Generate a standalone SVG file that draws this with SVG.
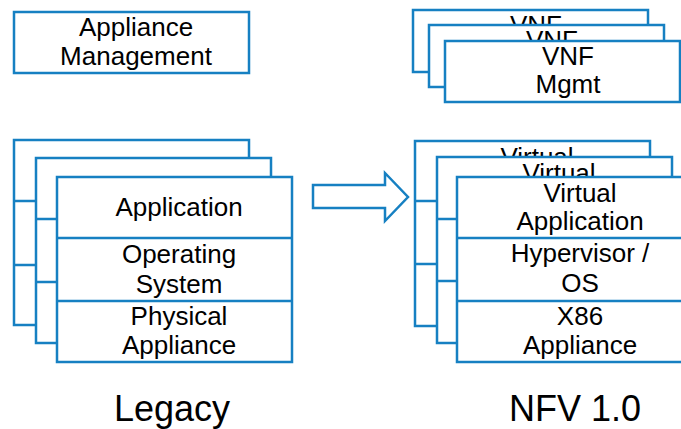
<svg xmlns="http://www.w3.org/2000/svg" width="681" height="429" viewBox="0 0 681 429">
<style>
.box{fill:#ffffff;stroke:#1680c2;stroke-width:2.5}
.div{stroke:#1680c2;stroke-width:2.5}
.t{font-family:"Liberation Sans",Arial,sans-serif;font-size:26px;fill:#000;text-anchor:middle}
.lbl{font-family:"Liberation Sans",Arial,sans-serif;font-size:36px;fill:#000;text-anchor:middle}
</style>
<rect width="681" height="429" fill="#ffffff"/>
<g id="appliance-management">
<rect class="box" x="14" y="12" width="235" height="61"/>
<text class="t" x="136" y="36">Appliance</text>
<text class="t" x="136" y="65">Management</text>
</g>
<g id="vnf-mgmt-stack">
<g id="vnf-1">
<rect class="box" x="413" y="10" width="235" height="62"/>
<text class="t" x="536" y="34">VNF</text>
</g>
<g id="vnf-2">
<rect class="box" x="429" y="25" width="235" height="62"/>
<text class="t" x="552" y="49">VNF</text>
</g>
<g id="vnf-3">
<rect class="box" x="445" y="41" width="235" height="61"/>
<text class="t" x="568" y="65">VNF</text>
<text class="t" x="568" y="93">Mgmt</text>
</g>
</g>
<g id="legacy-stack">
<g id="legacy-1">
<rect class="box" x="14" y="140" width="235" height="185"/>
<line class="div" x1="14" y1="201" x2="249" y2="201"/>
<line class="div" x1="14" y1="265" x2="249" y2="265"/>
</g>
<g id="legacy-2">
<rect class="box" x="36" y="158" width="235" height="185"/>
<line class="div" x1="36" y1="219" x2="271" y2="219"/>
<line class="div" x1="36" y1="282" x2="271" y2="282"/>
</g>
<g id="legacy-3">
<rect class="box" x="57" y="177" width="235" height="185"/>
<line class="div" x1="57" y1="238" x2="292" y2="238"/>
<line class="div" x1="57" y1="301" x2="292" y2="301"/>
<text class="t" x="179" y="216">Application</text>
<text class="t" x="179" y="263">Operating</text>
<text class="t" x="179" y="293">System</text>
<text class="t" x="179" y="325">Physical</text>
<text class="t" x="179" y="354">Appliance</text>
</g>
</g>
<g id="nfv-stack">
<g id="nfv-1">
<rect class="box" x="415" y="141" width="235" height="185"/>
<line class="div" x1="415" y1="201" x2="650" y2="201"/>
<line class="div" x1="415" y1="264" x2="650" y2="264"/>
<text class="t" x="537" y="166">Virtual</text>
</g>
<g id="nfv-2">
<rect class="box" x="437" y="157" width="235" height="186"/>
<line class="div" x1="437" y1="219" x2="672" y2="219"/>
<line class="div" x1="437" y1="281" x2="672" y2="281"/>
<text class="t" x="559" y="182">Virtual</text>
</g>
<g id="nfv-3">
<rect class="box" x="457" y="177" width="235" height="185"/>
<line class="div" x1="457" y1="238" x2="692" y2="238"/>
<line class="div" x1="457" y1="301" x2="692" y2="301"/>
<text class="t" x="580" y="202">Virtual</text>
<text class="t" x="580" y="230">Application</text>
<text class="t" x="580" y="262">Hypervisor /</text>
<text class="t" x="580" y="292">OS</text>
<text class="t" x="580" y="325">X86</text>
<text class="t" x="580" y="354">Appliance</text>
</g>
</g>
<g id="connectors">
<polygon class="box" points="313,185 385,185 385,173 408,197 385,221 385,208 313,208"/>
</g>
<g id="labels">
<text class="lbl" x="172" y="421">Legacy</text>
<text class="lbl" x="575" y="421">NFV 1.0</text>
</g>
</svg>
